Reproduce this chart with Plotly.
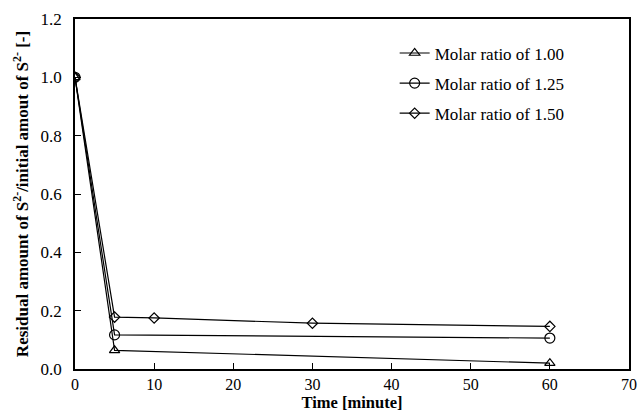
import plotly.graph_objects as go

time_100 = [0, 5, 60]
ratio_100 = [1.0, 0.064, 0.020]
time_125 = [0, 5, 60]
ratio_125 = [1.0, 0.117, 0.106]
time_150 = [0, 5, 10, 30, 60]
ratio_150 = [1.0, 0.178, 0.175, 0.157, 0.146]

names = ["Molar ratio of 1.00", "Molar ratio of 1.25", "Molar ratio of 1.50"]
symbols = ["triangle-up-open", "circle-open", "diamond-open"]
sizes = [9, 10, 8]

fig = go.Figure()
for i, (xs, ys) in enumerate([(time_100, ratio_100), (time_125, ratio_125), (time_150, ratio_150)]):
    fig.add_trace(go.Scatter(
        x=xs, y=ys, mode="lines+markers", name=names[i], legendgroup=f"g{i}",
        line=dict(color="black", width=1.2),
        marker=dict(symbol=symbols[i], size=sizes[i], color="black", line=dict(width=1.2, color="black")),
    ))

font = "Liberation Serif, Times New Roman, serif"
fig.update_layout(
    width=639, height=412,
    margin=dict(l=75, r=9.5, t=18.5, b=42.5),
    paper_bgcolor="white", plot_bgcolor="white",
    font=dict(family=font, size=17, color="black"),
    showlegend=True,
    legend=dict(x=0.577, y=0.953, xanchor="left", yanchor="top", bgcolor="rgba(0,0,0,0)",
                font=dict(size=17, family=font), tracegroupgap=5, traceorder="grouped",
                itemwidth=30),
)
fig.update_xaxes(
    range=[0, 70], tickvals=[0, 10, 20, 30, 40, 50, 60, 70],
    ticks="inside", ticklen=6, tickwidth=1, tickcolor="black", automargin=False,
    showline=True, linecolor="black", linewidth=1.5, mirror=True, showgrid=False, zeroline=False,
    title=dict(text="<b>Time [minute]</b>", font=dict(size=16.5, family=font), standoff=4),
    tickfont=dict(size=16, family=font),
)
fig.update_yaxes(
    range=[0, 1.2], tickvals=[0, 0.2, 0.4, 0.6, 0.8, 1.0, 1.2], tickformat=".1f",
    ticks="inside", ticklen=6, tickwidth=1, tickcolor="black", automargin=False,
    showline=True, linecolor="black", linewidth=1.5, mirror=True, showgrid=False, zeroline=False,
    ticklabelstandoff=8,
    title=dict(text="<b>Residual amount of S<sup>2-</sup>/initial amout of S<sup>2-</sup> [-]</b>",
               font=dict(size=17, family=font), standoff=8),
    tickfont=dict(size=17, family=font),
)
fig.write_html("out.html")
